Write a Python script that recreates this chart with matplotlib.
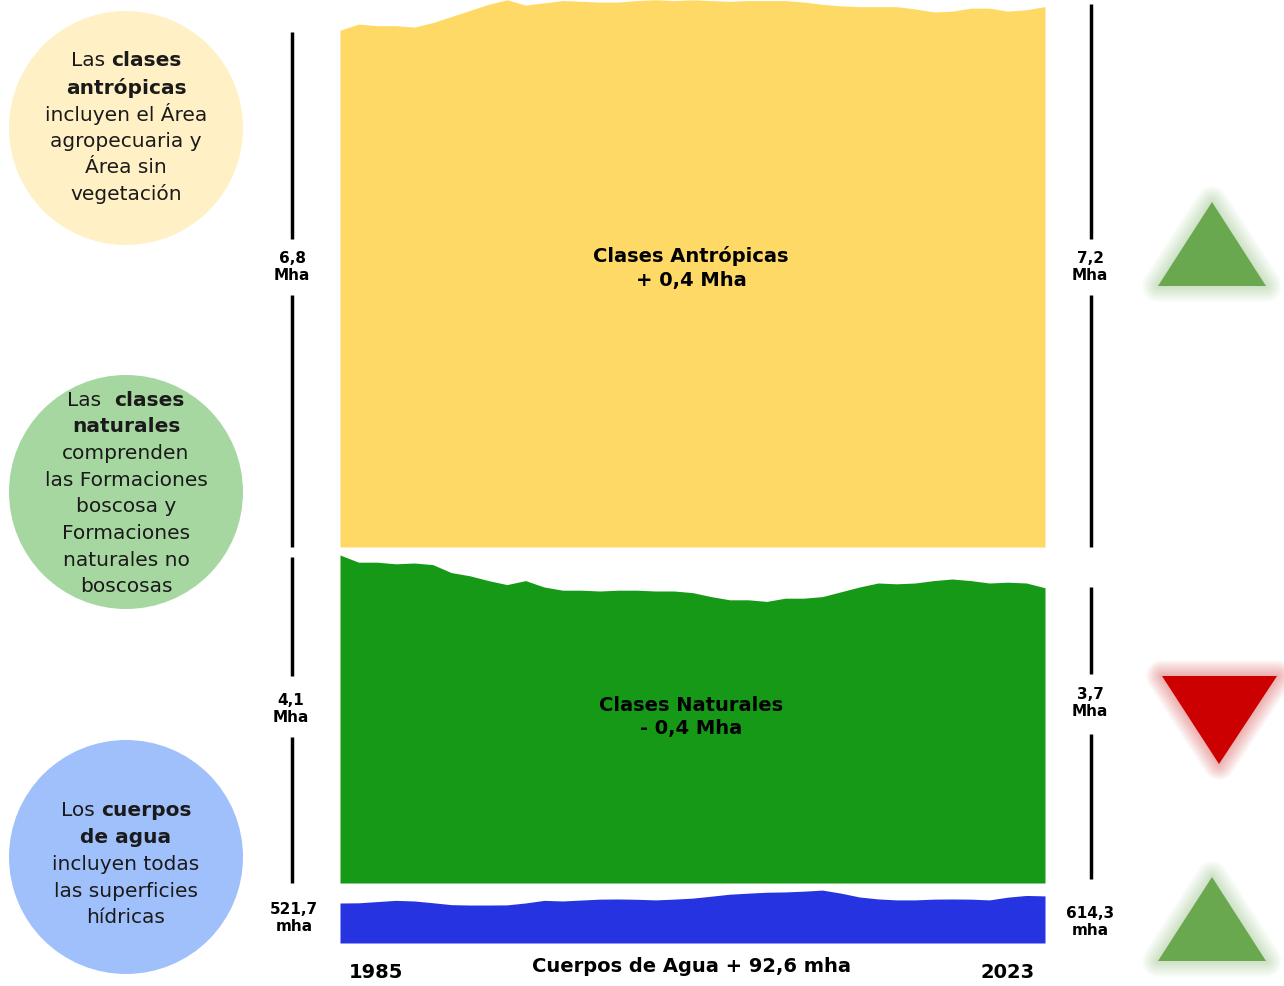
import numpy as np
import matplotlib.pyplot as plt
from matplotlib.patches import Circle, Polygon

plt.rcParams['font.family'] = ['DejaVu Sans']

# ---- data ----
years = np.arange(1985, 2024)

antropicas = [6.80, 6.88, 6.86, 6.86, 6.84, 6.90, 6.98, 7.06, 7.14, 7.20,
              7.13, 7.16, 7.19, 7.18, 7.17, 7.17, 7.19, 7.20, 7.19, 7.20,
              7.19, 7.18, 7.19, 7.19, 7.19, 7.17, 7.14, 7.12, 7.11, 7.11,
              7.11, 7.08, 7.04, 7.05, 7.09, 7.09, 7.05, 7.07, 7.11]  # Mha

naturales = [4.10, 4.01, 4.01, 3.99, 4.00, 3.98, 3.88, 3.84, 3.78, 3.73,
             3.78, 3.70, 3.66, 3.66, 3.65, 3.66, 3.66, 3.65, 3.65, 3.63,
             3.58, 3.54, 3.54, 3.52, 3.56, 3.56, 3.58, 3.64, 3.70, 3.75,
             3.74, 3.75, 3.78, 3.80, 3.78, 3.75, 3.76, 3.75, 3.69]  # Mha

agua = [521.7, 524.0, 540.0, 556.0, 548.0, 525.0, 500.0, 495.0, 495.0, 497.0,
        522.0, 556.0, 548.0, 560.0, 572.0, 574.0, 570.0, 562.0, 572.0, 585.0,
        610.0, 636.0, 650.0, 662.0, 666.0, 676.0, 690.0, 650.0, 600.0, 575.0,
        562.0, 562.0, 572.0, 574.0, 572.0, 562.0, 598.0, 620.0, 614.3]  # mha

inicio_labels = ['6,8\nMha', '4,1\nMha', '521,7\nmha']
fin_labels = ['7,2\nMha', '3,7\nMha', '614,3\nmha']
band_titles = ['Clases Antrópicas\n+ 0,4 Mha', 'Clases Naturales\n- 0,4 Mha']
agua_title = 'Cuerpos de Agua + 92,6 mha'

circle_texts = [
    [[('Las ', 'normal'), ('clases', 'bold')], [('antrópicas', 'bold')],
     [('incluyen el Área', 'normal')], [('agropecuaria y', 'normal')],
     [('Área sin', 'normal')], [('vegetación', 'normal')]],
    [[('Las  ', 'normal'), ('clases', 'bold')], [('naturales', 'bold')],
     [('comprenden', 'normal')], [('las Formaciones', 'normal')],
     [('boscosa y', 'normal')], [('Formaciones', 'normal')],
     [('naturales no', 'normal')], [('boscosas', 'normal')]],
    [[('Los ', 'normal'), ('cuerpos', 'bold')], [('de agua', 'bold')],
     [('incluyen todas', 'normal')], [('las superficies', 'normal')],
     [('hídricas', 'normal')]],
]

W, H = 1284, 987
fig = plt.figure(figsize=(W / 100, H / 100), dpi=100)


def px_axes(left, top, right, bottom):
    a = fig.add_axes([left / W, 1 - bottom / H, (right - left) / W, (bottom - top) / H])
    a.axis('off')
    return a


# bands
bands = [
    (antropicas, '#ffd966', (0, 548), 76.0),
    (naturales, '#169916', (548, 884), 80.0),
    (agua, '#2633e0', (884, 944), 1 / 13.04),
]
for values, color, (top, bottom), ppu in bands:
    a = px_axes(340, top, 1045, bottom)
    a.fill_between(years, 0, values, color=color, lw=0)
    a.set_xlim(years[0], years[-1])
    a.set_ylim(0, (bottom - top) / ppu)

# overlay in pixel coordinates
ax = fig.add_axes([0, 0, 1, 1])
ax.set_xlim(0, W)
ax.set_ylim(H, 0)
ax.axis('off')

# circles with text
circle_colors = ['#fff0c5', '#a6d7a0', '#a0c0fc']
circle_y = [129, 493, 858]
first_line = [61, 400, 811]
r = fig.canvas.get_renderer()
for cy, col, lines, y0 in zip(circle_y, circle_colors, circle_texts, first_line):
    ax.add_patch(Circle((126, cy), 117, color=col, lw=0))
    for k, parts in enumerate(lines):
        y = y0 + k * 26.7
        objs = [ax.text(0, y, s, fontsize=14.5, fontweight=w, color='#1a1a1a',
                        ha='left', va='center') for s, w in parts]
        widths = [t.get_window_extent(r).width for t in objs]
        x = 126 - sum(widths) / 2
        for t, wd in zip(objs, widths):
            t.set_x(x)
            x += wd

# vertical guide lines with start / end labels
left_segs = [[(33, 240), (296, 548)], [(558, 677), (738, 884)], []]
right_segs = [[(5, 240), (296, 548)], [(588, 675), (735, 880)], []]
left_lab_y = [267, 709, 918]
right_lab_y = [267, 703, 922]
for segs, x, labels, ly, lx in [(left_segs, 292, inicio_labels, left_lab_y, [292, 291, 294]),
                                (right_segs, 1091, fin_labels, right_lab_y, [1090, 1090, 1090])]:
    for band_segs in segs:
        for y1, y2 in band_segs:
            ax.plot([x, x], [y1, y2], color='black', lw=2.5, solid_capstyle='butt')
    for lab, y, xx in zip(labels, ly, lx):
        ax.text(xx, y, lab, fontsize=11, fontweight='bold', ha='center', va='center',
                linespacing=1.15)

# band titles
ax.text(691, 268, band_titles[0], fontsize=14, fontweight='bold', ha='center',
        va='center', linespacing=1.3)
ax.text(691, 717, band_titles[1], fontsize=14, fontweight='bold', ha='center',
        va='center', linespacing=1.3)
ax.text(691, 967, agua_title, fontsize=14, fontweight='bold', ha='center', va='center')
ax.text(376, 972, str(years[0]), fontsize=14, fontweight='bold', ha='center', va='center')
ax.text(1008, 973, str(years[-1]), fontsize=14, fontweight='bold', ha='center', va='center')

# change triangles with a soft glow
tri_rows = [(1212, 245), (1219, 721), (1212, 920)]
changes = [antropicas[-1] - antropicas[0], naturales[-1] - naturales[0], agua[-1] - agua[0]]
for (cx, cy), d in zip(tri_rows, changes):
    if d > 0:
        pts = [(cx - 54, cy + 42), (cx + 54, cy + 42), (cx, cy - 42)]
        col = '#6aa84f'
    else:
        pts = [(cx - 57, cy - 44), (cx + 58, cy - 44), (cx, cy + 44)]
        col = '#cc0000'
    for k in range(10):
        ax.add_patch(Polygon(pts, closed=True, fc='none', ec=col, lw=1 + k * 2.4,
                             alpha=0.035, joinstyle='round'))
    ax.add_patch(Polygon(pts, closed=True, fc=col, ec='none'))

fig.savefig('out.png', dpi=100)
